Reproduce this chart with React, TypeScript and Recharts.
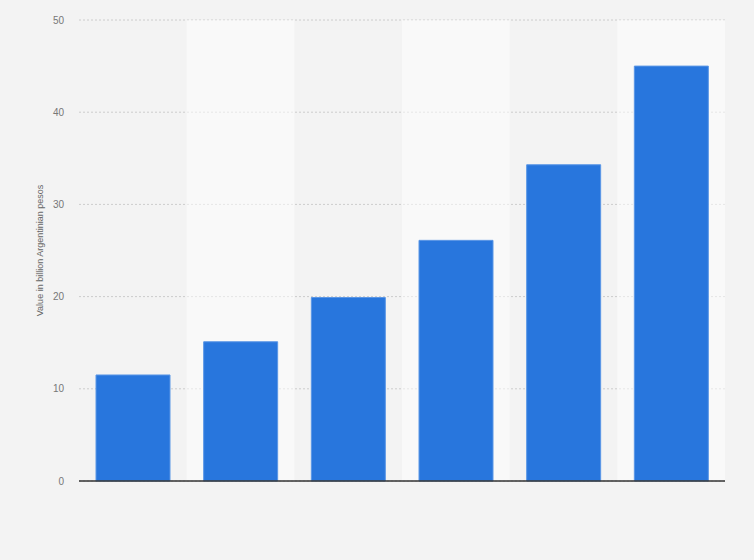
import React from "react";
import {
  BarChart,
  Bar,
  XAxis,
  YAxis,
  CartesianGrid,
  ReferenceArea,
} from "recharts";

const categories = ["2019", "2020", "2021", "2022", "2023", "2024"];
const values = [11.5, 15.1, 19.9, 26.1, 34.3, 45.0];
const yTicks = [0, 10, 20, 30, 40, 50];

const data = categories.map((c, i) => ({ name: c, value: values[i] }));
const shaded = categories.filter((_, i) => i % 2 === 1);

const font = "Liberation Sans, Arial, sans-serif";

export default function App() {
  return (
    <div style={{ width: 754, height: 560, background: "#f3f3f3" }}>
      <style>{`body{margin:0}`}</style>
      <BarChart
        width={754}
        height={560}
        data={data}
        margin={{ top: 20, right: 29, left: 0, bottom: 69 }}
        barSize={74}
      >
        <CartesianGrid
          vertical={false}
          stroke="#cccccc"
          strokeDasharray="2 2"
        />
        {shaded.map((c) => (
          <ReferenceArea
            key={c}
            x1={c}
            x2={c}
            fill="#ffffff"
            fillOpacity={0.5}
            strokeOpacity={0}
            ifOverflow="visible"
          />
        ))}
        <XAxis
          dataKey="name"
          tick={false}
          tickLine={false}
          axisLine={{ stroke: "#333", strokeWidth: 1.5 }}
          height={10}
        />
        <YAxis
          width={79}
          domain={[0, 50]}
          ticks={yTicks}
          axisLine={false}
          tickLine={false}
          tickMargin={9}
          tick={{ fill: "#777", fontSize: 10, fontFamily: font }}
          label={{
            value: "Value in billion Argentinian pesos",
            angle: -90,
            position: "insideLeft",
            offset: 40,
            style: {
              textAnchor: "middle",
              fill: "#666",
              fontSize: 9,
              fontFamily: font,
            },
          }}
        />
        <Bar
          dataKey="value"
          fill="#2876dd"
          stroke="#5b97e6"
          strokeWidth={1}
          isAnimationActive={false}
        />
      </BarChart>
    </div>
  );
}
